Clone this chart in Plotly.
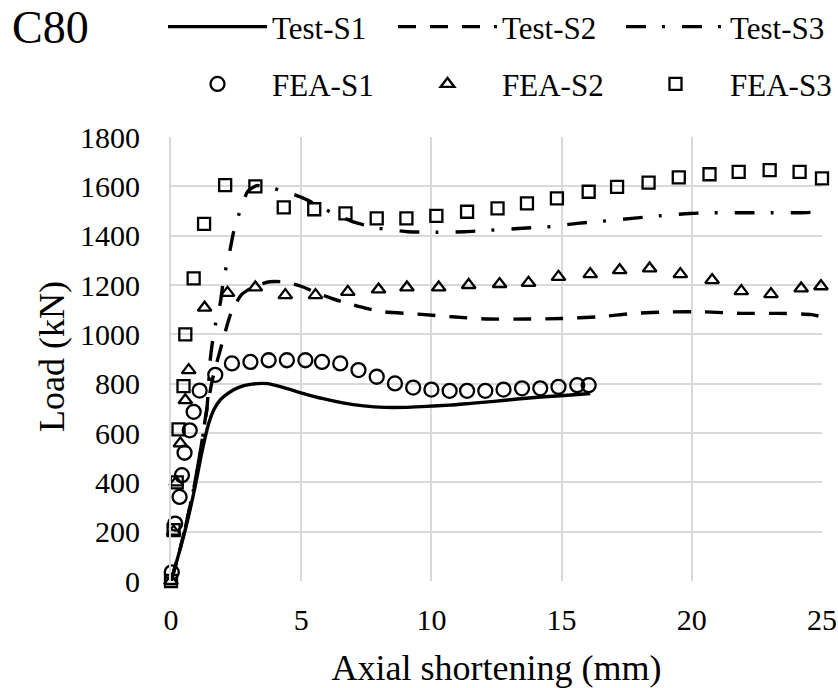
import plotly.graph_objects as go

# ---------------- data ----------------
test_s1_x = [0, 0.3, 0.6, 0.9, 1.2, 1.45, 1.65, 1.9, 2.2, 2.6, 3.1, 3.7, 4.3, 5.1, 5.8, 6.6, 7.4, 8.2, 9.0, 9.8, 10.7, 11.5, 12.4, 13.3, 14.2, 15.1, 16.1]
test_s1_y = [0, 110, 230, 370, 530, 640, 695, 735, 762, 785, 798, 800, 785, 760, 740, 722, 710, 704, 704, 708, 713, 720, 728, 738, 746, 752, 760]

test_s2_x = [0, 0.3, 0.6, 0.9, 1.15, 1.35, 1.6, 1.96, 2.3, 2.7, 3.2, 3.8, 4.4, 5.0, 5.5, 6.2, 6.8, 7.5, 8.2, 9.5, 10.8, 12.2, 13.6, 15.0, 16.4, 17.8, 19.1, 20.5, 21.9, 23.3, 24.6, 25]
test_s2_y = [0, 110, 240, 390, 540, 680, 820, 963, 1085, 1160, 1195, 1213, 1212, 1195, 1172, 1145, 1125, 1105, 1091, 1082, 1071, 1062, 1062, 1064, 1071, 1085, 1091, 1091, 1085, 1085, 1080, 1071]

test_s3_x = [0, 0.3, 0.6, 0.9, 1.15, 1.38, 1.51, 1.66, 1.9, 2.02, 2.24, 2.43, 2.7, 2.95, 3.3, 3.9, 4.5, 5.1, 6.1, 7.0, 8.0, 9.1, 10.2, 11.3, 12.4, 13.5, 14.6, 15.6, 16.7, 17.7, 18.8, 19.9, 21.0, 22.0, 23.1, 24.2, 25]
test_s3_y = [0, 110, 240, 390, 540, 700, 900, 1017, 1132, 1224, 1328, 1427, 1515, 1580, 1603, 1592, 1575, 1551, 1497, 1456, 1430, 1416, 1414, 1416, 1423, 1430, 1437, 1450, 1460, 1470, 1481, 1490, 1493, 1493, 1493, 1493, 1497]

fea_s1_x = [0.03, 0.16, 0.33, 0.42, 0.52, 0.72, 0.87, 1.1, 1.7, 2.34, 3.05, 3.75, 4.45, 5.16, 5.8, 6.5, 7.2, 7.9, 8.6, 9.3, 10.0, 10.7, 11.37, 12.07, 12.77, 13.48, 14.18, 14.88, 15.6, 16.04]
fea_s1_y = [35, 233, 341, 429, 520, 611, 686, 772, 836, 882, 888, 895, 895, 895, 888, 882, 855, 828, 801, 784, 776, 771, 771, 771, 776, 781, 781, 787, 794, 794]

fea_s2_x = [0.0, 0.1, 0.2, 0.36, 0.55, 0.68, 1.29, 2.17, 3.24, 4.39, 5.55, 6.79, 7.97, 9.06, 10.28, 11.43, 12.62, 13.73, 14.88, 16.1, 17.23, 18.38, 19.56, 20.78, 21.9, 23.04, 24.2, 24.96]
fea_s2_y = [0, 200, 400, 558, 733, 855, 1108, 1168, 1190, 1159, 1159, 1172, 1182, 1190, 1190, 1200, 1204, 1209, 1233, 1244, 1260, 1267, 1244, 1220, 1175, 1163, 1186, 1195]

fea_s3_x = [0.0, 0.1, 0.22, 0.29, 0.48, 0.55, 0.87, 1.27, 2.08, 3.24, 4.33, 5.5, 6.7, 7.9, 9.04, 10.19, 11.37, 12.54, 13.67, 14.82, 16.04, 17.13, 18.34, 19.5, 20.68, 21.8, 22.99, 24.14, 25.0]
fea_s3_y = [0, 206, 400, 615, 790, 1000, 1227, 1448, 1605, 1600, 1515, 1507, 1490, 1470, 1470, 1480, 1497, 1511, 1531, 1551, 1578, 1598, 1615, 1636, 1649, 1659, 1666, 1659, 1632]

x_ticks = [0, 5, 10, 15, 20, 25]
y_ticks = [0, 200, 400, 600, 800, 1000, 1200, 1400, 1600, 1800]

FONT = "Liberation Serif"
W, H = 838, 688

fig = go.Figure()

fig.add_trace(go.Scatter(x=test_s1_x, y=test_s1_y, mode="lines", name="Test-S1",
                         line=dict(color="black", width=3.4, shape="spline", smoothing=0.6),
                         legend="legend", legendgroup="a"))
fig.add_trace(go.Scatter(x=fea_s1_x, y=fea_s1_y, mode="markers", name="FEA-S1",
                         marker=dict(symbol="circle-open", size=14, color="black", line=dict(width=2.3)),
                         cliponaxis=False, legend="legend", legendgroup="b"))
fig.add_trace(go.Scatter(x=test_s2_x, y=test_s2_y, mode="lines", name="Test-S2",
                         line=dict(color="black", width=3.4, dash="18px,14px", shape="spline", smoothing=0.6),
                         legend="legend2", legendgroup="c"))
fig.add_trace(go.Scatter(x=fea_s2_x, y=fea_s2_y, mode="markers", name="FEA-S2",
                         marker=dict(symbol="triangle-up-open", size=12, color="black", line=dict(width=2.3)),
                         cliponaxis=False, legend="legend2", legendgroup="d"))
fig.add_trace(go.Scatter(x=test_s3_x, y=test_s3_y, mode="lines", name="Test-S3",
                         line=dict(color="black", width=3.4, dash="20px,16px,3px,17px", shape="spline", smoothing=0.6),
                         legend="legend3", legendgroup="e"))
fig.add_trace(go.Scatter(x=fea_s3_x, y=fea_s3_y, mode="markers", name="FEA-S3",
                         marker=dict(symbol="square-open", size=12, color="black", line=dict(width=2.3)),
                         cliponaxis=False, legend="legend3", legendgroup="f"))

L, R, T, B = 171, 822, 137, 581
PW, PH = R - L, B - T

leg_common = dict(orientation="v", xref="container", yref="container",
                  xanchor="left", yanchor="top", y=1 + 2 / H,
                  font=dict(family=FONT, size=31, color="black"),
                  itemwidth=99, tracegroupgap=14, traceorder="grouped",
                  bgcolor="rgba(0,0,0,0)", borderwidth=0)

fig.update_layout(
    template="none",
    width=W, height=H,
    paper_bgcolor="white", plot_bgcolor="white",
    margin=dict(l=L, r=W - R, t=T, b=H - B, pad=0, autoexpand=False),
    font=dict(family=FONT, color="black"),
    legend=dict(x=163 / W, **leg_common),
    legend2=dict(x=393 / W, **leg_common),
    legend3=dict(x=621 / W, **leg_common),
    annotations=[
        dict(text="C80", xref="paper", yref="paper", x=-(L - 10) / PW, y=1 + (T - 28) / PH,
             xanchor="left", yanchor="middle", showarrow=False,
             font=dict(family=FONT, size=46, color="black")),
        dict(text="Load (kN)", xref="paper", yref="paper", x=(52 - L) / PW, y=(B - 357) / PH,
             xanchor="center", yanchor="middle", textangle=-90, showarrow=False,
             font=dict(family=FONT, size=36, color="black")),
    ],
)

fig.update_xaxes(range=[0, 25], tickvals=x_ticks, ticktext=[str(v) for v in x_ticks], automargin=False,
                 showgrid=True, gridcolor="#d9d9d9", gridwidth=2,
                 zeroline=False, showline=False,
                 ticks="outside", ticklen=12, tickcolor="rgba(0,0,0,0)",
                 tickfont=dict(family=FONT, size=30, color="black"),
                 title=dict(text="Axial shortening (mm)", font=dict(family=FONT, size=36, color="black")))
fig.update_yaxes(range=[0, 1800], tickvals=y_ticks, ticktext=[str(v) for v in y_ticks], automargin=False,
                 showgrid=True, gridcolor="#d9d9d9", gridwidth=2,
                 zeroline=False, showline=True, linecolor="#d9d9d9", linewidth=2,
                 ticks="outside", ticklen=23, tickcolor="rgba(0,0,0,0)",
                 tickfont=dict(family=FONT, size=30, color="black"))

fig.write_html("out.html")
